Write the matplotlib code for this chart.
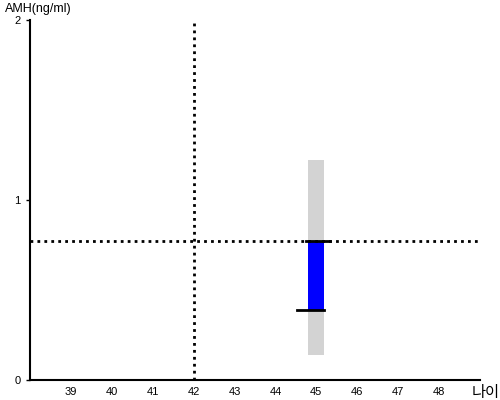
import matplotlib
matplotlib.use("Agg")
import matplotlib.pyplot as plt

plt.rcParams['font.family'] = ['Liberation Sans', 'Noto Sans CJK KR', 'DejaVu Sans']

x_ticks = [39, 40, 41, 42, 43, 44, 45, 46, 47, 48]
y_ticks = [0, 1, 2]
age = 45
ref_age = 42
ref_amh = 0.772
range_low, range_high = 0.139, 1.222
box_low, box_high = 0.389, 0.772
bar_width = 0.39

fig = plt.figure(figsize=(5, 4), dpi=100)
ax = fig.add_axes([0.06, 0.05, 0.90, 0.90])
ax.set_xlim(38, 49)
ax.set_ylim(0, 2)

ax.bar(age, range_high - range_low, bottom=range_low, width=bar_width, color='#d3d3d3', zorder=1)
ax.bar(age, box_high - box_low, bottom=box_low, width=bar_width, color='#0000ff', zorder=2)
ax.plot([age - bar_width / 2 - 0.05, age + 0.34], [box_high, box_high], color='black', lw=2, zorder=4)
ax.plot([age - 0.48, age + bar_width / 2], [box_low, box_low], color='black', lw=2, zorder=4)

ax.axhline(ref_amh, color='black', ls=(0, (1, 1.5)), lw=2, zorder=3)
ax.axvline(ref_age, color='black', ls=(0, (1, 1.5)), lw=2, zorder=3)

for s in ['top', 'right']:
    ax.spines[s].set_visible(False)
for s in ['left', 'bottom']:
    ax.spines[s].set_linewidth(1.5)

ax.set_xticks(x_ticks)
ax.set_xticklabels([str(v) for v in x_ticks], fontsize=8)
ax.set_yticks(y_ticks)
ax.set_yticklabels([str(v) for v in y_ticks], fontsize=8)
ax.tick_params(axis='x', length=0, pad=5)
ax.tick_params(axis='y', length=3, width=1, pad=4)

fig.text(0.01, 0.978, 'AMH(ng/ml)', fontsize=9, ha='left', va='center')
fig.text(0.944, 0.02, '나이', fontsize=11, ha='left', va='center', family=['Noto Sans CJK KR', 'DejaVu Sans'])

fig.savefig('out.png', dpi=100)
